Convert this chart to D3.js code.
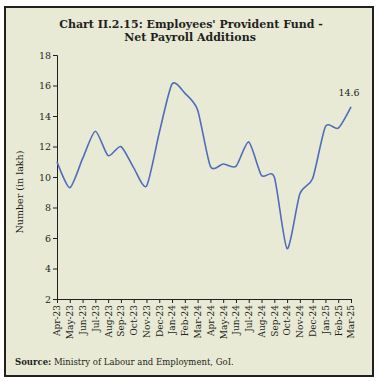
<!DOCTYPE html>
<html>
<head>
<meta charset="utf-8">
<script src="https://cdn.jsdelivr.net/npm/d3@7"></script>
<style>
  body { margin: 0; background: #fff; }
  svg text { font-family: "DejaVu Serif", "Liberation Serif", serif; fill: #231f20; }
</style>
</head>
<body>
<div id="grafico"></div>
<script>
// Datos del gráfico
let meses = ["Apr-23", "May-23", "Jun-23", "Jul-23", "Aug-23", "Sep-23", "Oct-23", "Nov-23",
    "Dec-23", "Jan-24", "Feb-24", "Mar-24", "Apr-24", "May-24", "Jun-24", "Jul-24",
    "Aug-24", "Sep-24", "Oct-24", "Nov-24", "Dec-24", "Jan-25", "Feb-25", "Mar-25"];
let valores = [11.0, 9.3, 11.2, 13.0, 11.4, 12.0, 10.6, 9.4,
    12.9, 16.1, 15.5, 14.4, 10.7, 10.85, 10.7, 12.3,
    10.1, 10.0, 5.3, 8.9, 9.9, 13.3, 13.2, 14.6];
let ticks_y = [2, 4, 6, 8, 10, 12, 14, 16, 18];

let ancho = 379, alto = 381;
let margin = {top: 55, right: 28, bottom: 82, left: 57},
    width = 351 - margin.left,
    height = 299 - margin.top;

let svg = d3.select("#grafico")
    .append("svg")
    .attr("width", ancho)
    .attr("height", alto);

// Marco y fondo
svg.append("rect")
    .attr("x", 5)
    .attr("y", 7)
    .attr("width", 368)
    .attr("height", 369)
    .attr("fill", "#e8ead5")
    .attr("stroke", "#231f20")
    .attr("stroke-width", 2);

// Título
svg.append("text")
    .attr("x", 191)
    .attr("y", 28)
    .attr("text-anchor", "middle")
    .style("font-weight", "bold")
    .style("font-size", "11px")
    .text("Chart II.2.15: Employees' Provident Fund -");
svg.append("text")
    .attr("x", 190)
    .attr("y", 41)
    .attr("text-anchor", "middle")
    .style("font-weight", "bold")
    .style("font-size", "11px")
    .text("Net Payroll Additions");

let g = svg.append("g")
    .attr("transform", "translate(" + margin.left + "," + margin.top + ")");

let x = d3.scalePoint()
    .domain(meses)
    .range([0, width]);

let y = d3.scaleLinear()
    .domain([2, 18])
    .range([height, 0]);

// Eje Y
let ejeY = g.append("g")
    .call(d3.axisLeft(y).tickValues(ticks_y).tickSize(4).tickPadding(2));
ejeY.selectAll("text").style("font-size", "9.5px");

// Eje X
let ejeX = g.append("g")
    .attr("transform", "translate(0," + height + ")")
    .call(d3.axisBottom(x).tickSize(4).tickSizeOuter(0));
ejeX.selectAll("text")
    .style("font-size", "9px")
    .attr("text-anchor", "end")
    .attr("transform", "rotate(-90)")
    .attr("x", -6)
    .attr("y", 0)
    .attr("dy", "0.32em");
g.selectAll(".domain").attr("stroke", "#231f20");
g.selectAll(".tick line").attr("stroke", "#231f20");

// Etiqueta eje Y
svg.append("text")
    .attr("text-anchor", "middle")
    .attr("transform", "translate(23,192) rotate(-90)")
    .style("font-size", "9.5px")
    .text("Number (in lakh)");

// Línea
let linea = d3.line()
    .x(function (d, i) { return x(meses[i]); })
    .y(function (d) { return y(d); })
    .curve(d3.curveCardinal.tension(0.3));

g.append("path")
    .datum(valores)
    .attr("fill", "none")
    .attr("stroke", "#4f6cbd")
    .attr("stroke-width", 1.6)
    .attr("d", linea);

// Último valor
let ultimo = valores.length - 1;
g.append("text")
    .attr("x", x(meses[ultimo]) - 2)
    .attr("y", y(valores[ultimo]) - 11)
    .attr("text-anchor", "middle")
    .style("font-size", "9.5px")
    .text(valores[ultimo].toFixed(1));

// Fuente
let fuente = svg.append("text")
    .attr("x", 15)
    .attr("y", 365)
    .style("font-size", "8.5px");
fuente.append("tspan").style("font-weight", "bold").text("Source:");
fuente.append("tspan").text(" Ministry of Labour and Employment, GoI.");
</script>
</body>
</html>
